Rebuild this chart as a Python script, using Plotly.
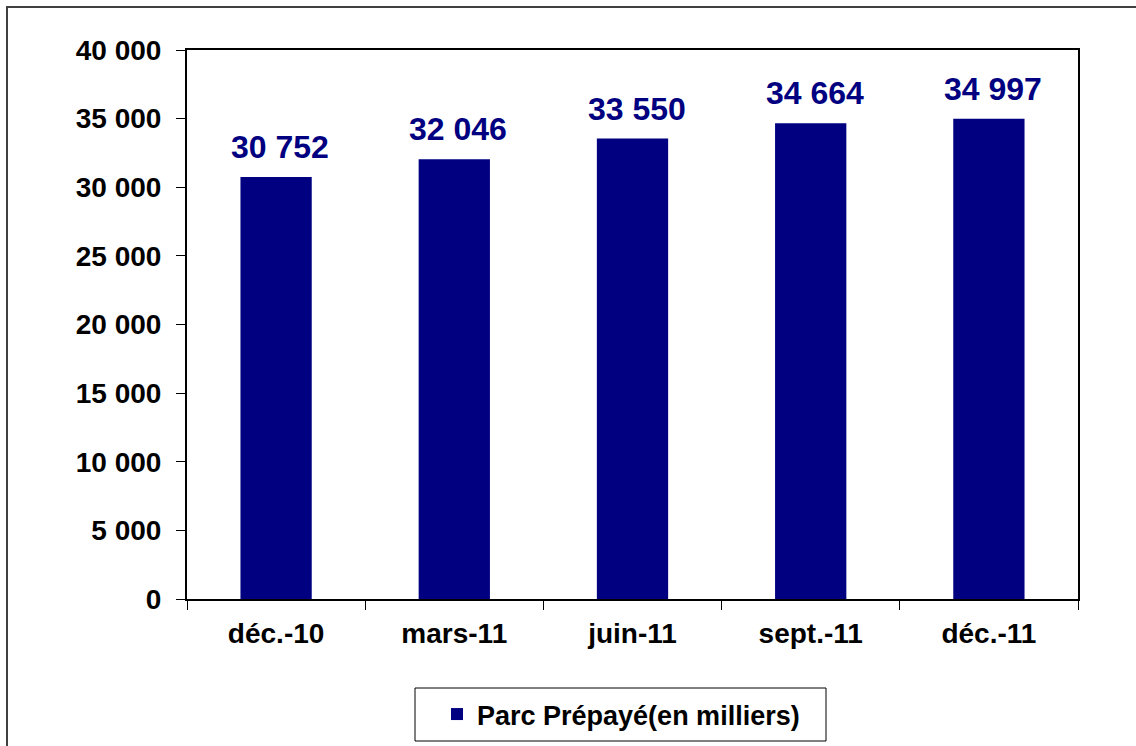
import plotly.graph_objects as go

# données (en milliers)
periodes = ["déc.-10", "mars-11", "juin-11", "sept.-11", "déc.-11"]
parc_prepaye = [30752, 32046, 33550, 34664, 34997]
nom_serie = "Parc Prépayé(en milliers)"

FONT = "Arial, Liberation Sans, sans-serif"
NAVY = "#000080"

fig = go.Figure(go.Bar(
    x=periodes,
    y=parc_prepaye,
    name=nom_serie,
    marker={'color': NAVY, 'line': {'width': 0}},
    showlegend=True,
))

# étiquettes de valeurs au-dessus des barres
for p, v in zip(periodes, parc_prepaye):
    fig.add_annotation(
        x=p, y=v, text=f"{v:,}".replace(",", " "),
        showarrow=False, yanchor='bottom', yshift=10, xshift=4,
        font={'family': FONT, 'size': 32, 'color': NAVY, 'weight': 'bold'},
    )

L, R, T, B = 187, 58, 50, 147
W, H = 1136, 746
pw, ph = W - L - R, H - T - B


def px_x(x):
    return (x - L) / pw


def px_y(y):
    return (T + ph - y) / ph


# cadre extérieur (bords gauche/haut visibles)
fig.add_shape(
    type='rect', xref='paper', yref='paper',
    x0=px_x(7), x1=px_x(W + 10), y0=px_y(H + 10), y1=px_y(7),
    line={'color': '#404040', 'width': 2}, fillcolor='rgba(0,0,0,0)',
    layer='below',
)
# cadre de la légende
fig.add_shape(
    type='rect', xref='paper', yref='paper',
    x0=px_x(415), x1=px_x(826), y0=px_y(741), y1=px_y(688),
    line={'color': 'black', 'width': 1}, fillcolor='white',
    layer='below',
)

fig.update_layout(
    width=W, height=H,
    margin={'l': L, 'r': R, 't': T, 'b': B, 'pad': 0, 'autoexpand': False},
    plot_bgcolor='white',
    paper_bgcolor='white',
    separators=", ",
    bargap=0.6,
    font={'family': FONT, 'color': 'black', 'weight': 'bold'},
    xaxis={
        'showline': True, 'linecolor': 'black', 'linewidth': 2, 'mirror': True,
        'ticks': 'outside', 'tickson': 'boundaries', 'ticklen': 9,
        'tickcolor': 'black', 'tickwidth': 1,
        'tickfont': {'size': 28, 'family': FONT, 'weight': 'bold'},
        'ticklabelstandoff': 8,
        'showgrid': False,
    },
    yaxis={
        'range': [0, 40000], 'dtick': 5000, 'tickformat': ',d',
        'showline': True, 'linecolor': 'black', 'linewidth': 2, 'mirror': True,
        'ticks': 'outside', 'ticklen': 9, 'tickcolor': 'black', 'tickwidth': 1,
        'tickfont': {'size': 28, 'family': FONT, 'weight': 'bold'},
        'ticklabelstandoff': 9,
        'showgrid': False, 'zeroline': False,
    },
    legend={
        'x': px_x(437), 'xanchor': 'left',
        'y': px_y(690), 'yanchor': 'top',
        'orientation': 'h',
        'borderwidth': 0,
        'font': {'size': 27, 'family': FONT, 'weight': 'bold'},
        'bgcolor': 'rgba(0,0,0,0)',
    },
)

fig.write_html("out.html", config={'displayModeBar': False},
               post_script="document.body.style.margin='0';")
